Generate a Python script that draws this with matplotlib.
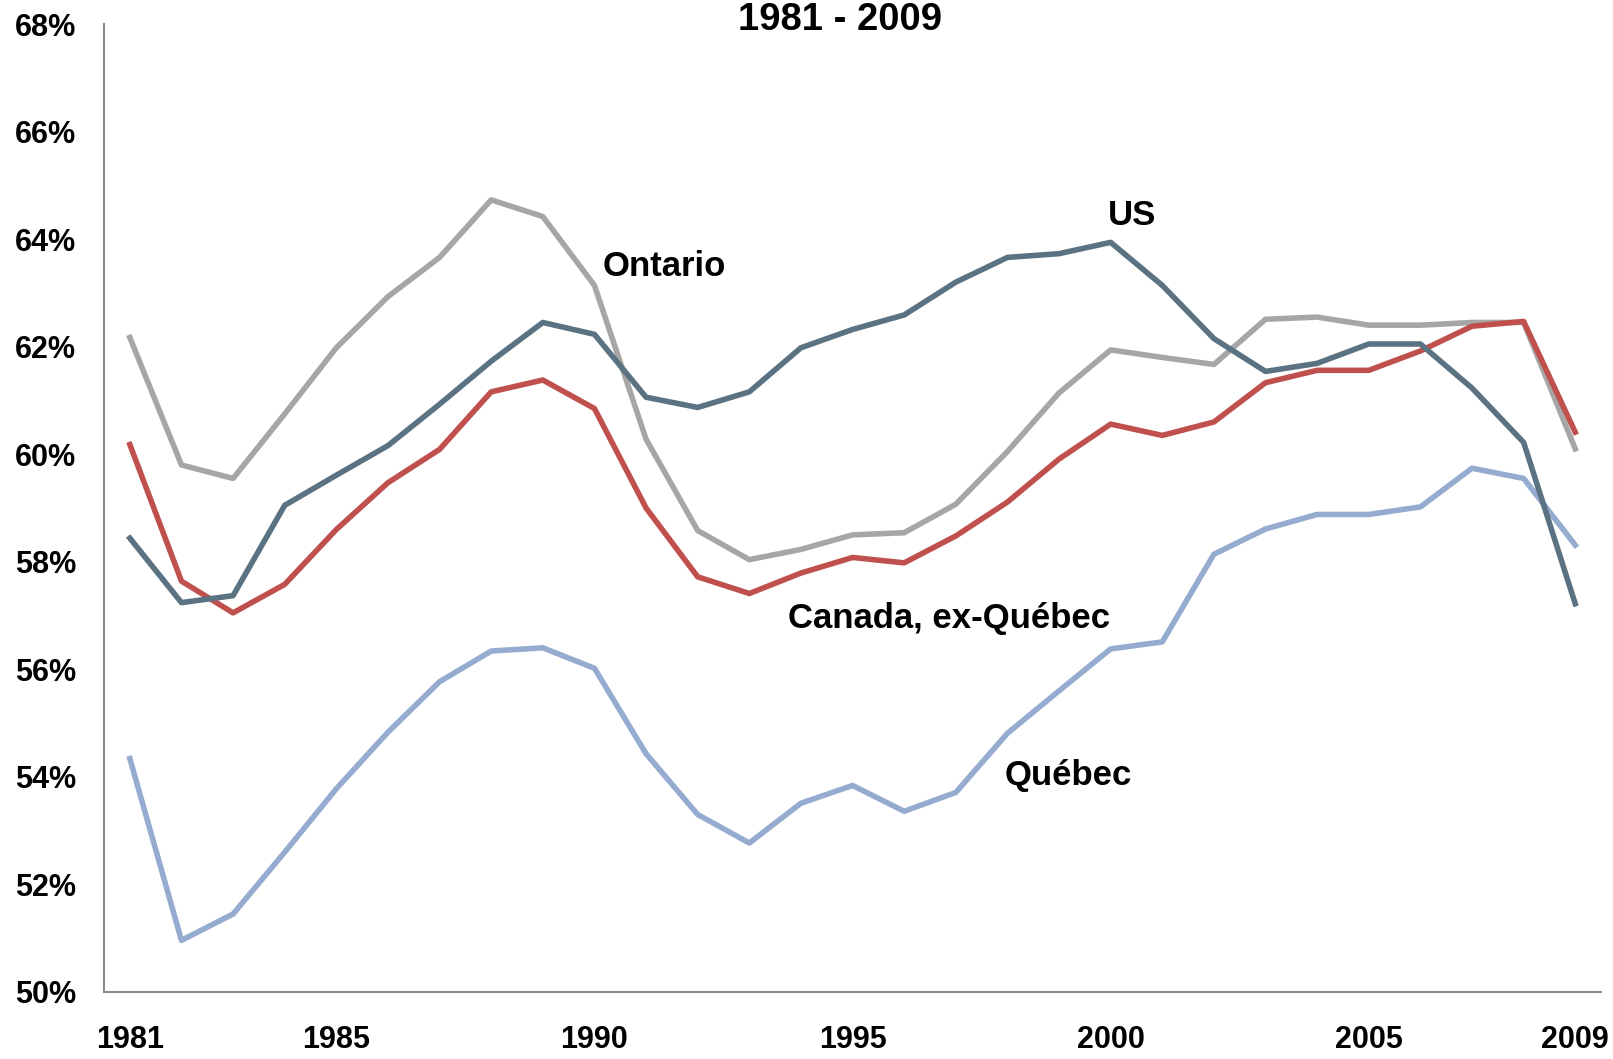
import matplotlib

matplotlib.use("Agg")
import matplotlib.pyplot as plt
from matplotlib.ticker import FuncFormatter

plt.rcParams["font.family"] = ["Liberation Sans", "DejaVu Sans"]
plt.rcParams["font.weight"] = "bold"

years = list(range(1981, 2010))

ontario = [62.17, 59.80, 59.55, 60.75, 61.98, 62.93, 63.66, 64.73, 64.42, 63.14,
           60.28, 58.58, 58.04, 58.23, 58.50, 58.54, 59.07, 60.05, 61.14, 61.94,
           61.80, 61.67, 62.51, 62.55, 62.40, 62.40, 62.45, 62.45, 60.10]
us = [58.44, 57.24, 57.37, 59.05, 59.61, 60.16, 60.93, 61.73, 62.45, 62.23,
      61.06, 60.87, 61.16, 61.98, 62.32, 62.59, 63.20, 63.66, 63.73, 63.94,
      63.14, 62.15, 61.54, 61.69, 62.05, 62.05, 61.23, 60.22, 57.22]
canada_exq = [60.18, 57.64, 57.05, 57.58, 58.60, 59.47, 60.09, 61.16, 61.38, 60.85,
              59.00, 57.72, 57.41, 57.79, 58.08, 57.98, 58.48, 59.11, 59.91, 60.56,
              60.35, 60.60, 61.33, 61.56, 61.56, 61.92, 62.38, 62.47, 60.41]
quebec = [54.34, 50.96, 51.45, 52.60, 53.78, 54.83, 55.77, 56.34, 56.40, 56.02,
          54.43, 53.30, 52.77, 53.51, 53.84, 53.36, 53.71, 54.81, 55.60, 56.38,
          56.51, 58.14, 58.61, 58.88, 58.88, 59.02, 59.74, 59.55, 58.31]

x_ticks = [1981, 1985, 1990, 1995, 2000, 2005, 2009]
y_ticks = list(range(50, 70, 2))

fig = plt.figure(figsize=(16.13, 10.59), dpi=100)
ax = fig.add_axes([0.0645, 0.0633, 0.9281, 0.914])

lw = 4.0
ax.plot(years, ontario, color="#A6A6A6", lw=lw)
ax.plot(years, quebec, color="#95ABD0", lw=lw)
ax.plot(years, canada_exq, color="#C0504D", lw=lw)
ax.plot(years, us, color="#5B7282", lw=lw)

ax.set_xlim(1980.5, 2009.5)
ax.set_ylim(50, 68)
ax.set_xticks(x_ticks)
ax.set_yticks(y_ticks)
ax.yaxis.set_major_formatter(FuncFormatter(lambda v, _: f"{v:.0f}%"))
ax.tick_params(length=0, labelsize=22)
ax.tick_params(axis="y", pad=20)
ax.tick_params(axis="x", pad=24)
for lab in ax.get_xticklabels() + ax.get_yticklabels():
    lab.set_fontweight("bold")

for side in ("top", "right"):
    ax.spines[side].set_visible(False)
for side in ("left", "bottom"):
    ax.spines[side].set_color("#8C8C8C")
    ax.spines[side].set_linewidth(1.5)

lbl = dict(fontsize=25, fontweight="bold", va="center", ha="left")
ax.text(1990.15, 63.5, "Ontario", **lbl)
ax.text(1999.95, 64.44, "US", **lbl)
ax.text(1993.75, 56.95, "Canada, ex-Québec", **lbl)
ax.text(1997.95, 54.02, "Québec", **lbl)

fig.text(0.521, 0.981, "1981 - 2009", fontsize=27.5, fontweight="bold",
         ha="center", va="center")

fig.savefig("out.png", dpi=100)
